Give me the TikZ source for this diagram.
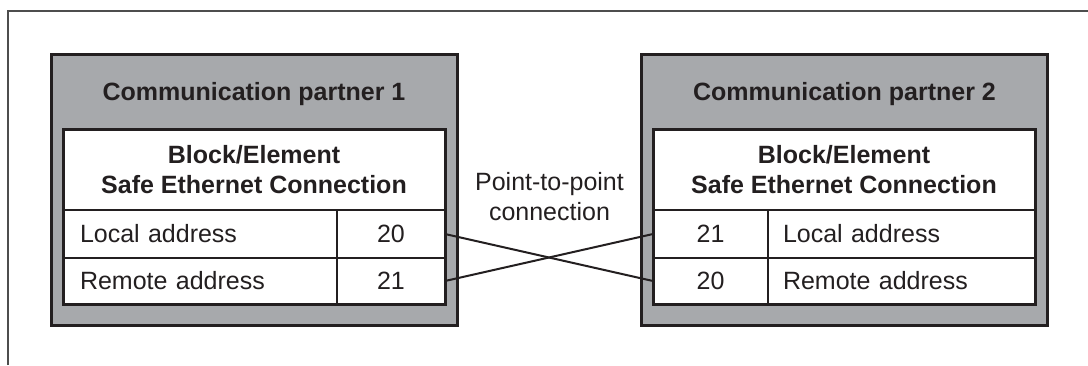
\documentclass[tikz,border=0pt]{standalone}
\usepackage{fontspec}
\setmainfont{Liberation Sans}
\definecolor{ink}{HTML}{231F20}
\definecolor{boxgray}{HTML}{A7A9AC}
\definecolor{framegray}{HTML}{4D4D4D}
\begin{document}
\begin{tikzpicture}[x=1pt,y=-1pt,
  font=\fontsize{25}{30}\selectfont, text=ink,
  partner/.style={draw=ink, line width=3pt, fill=boxgray, minimum width=406pt, minimum height=271pt, inner sep=0pt},
  panel/.style={draw=ink, line width=3pt, minimum width=382pt, minimum height=175pt, inner sep=0pt},
  cell/.style={draw=ink, line width=2pt, fill=white, inner sep=0pt, outer sep=0pt},
  headcell/.style={cell, minimum width=382pt, minimum height=81pt, align=center, font=\bfseries\fontsize{25}{30}\selectfont},
  title/.style={font=\bfseries\fontsize{25}{30}\selectfont, anchor=base},
  conn/.style={draw=ink, line width=2pt},
  frame/.style={draw=framegray, line width=1.5pt}
]
\useasboundingbox (0,0) rectangle (1088,365);
\coordinate (fb) at (8,365);
\coordinate (fc) at (8,11);
\coordinate (fr) at (1090,11);
\draw[frame] (fb) -- (fc) -- (fr);

% Partner 1
\node[partner] (p1) at (254,189.5) {};
\node[title] (t1) at (254,100) {Communication partner 1};
\node[headcell] (h1) at (254,169.5) {Block/Element\\Safe Ethernet Connection};
\node[cell, minimum height=48pt, text width=240pt, inner xsep=17pt, align=left] (la1) at (200,234) {Local address};
\node[cell, minimum height=46pt, text width=240pt, inner xsep=17pt, align=left] (ra1) at (200,281) {Remote address};
\node[cell, minimum width=108pt, minimum height=48pt] (l20) at (391,234) {20};
\node[cell, minimum width=108pt, minimum height=46pt] (l21) at (391,281) {21};
\node[panel] (i1) at (254,216.5) {};

% Partner 2
\node[partner] (p2) at (844.5,189.5) {};
\node[title] (t2) at (844.5,100) {Communication partner 2};
\node[headcell] (h2) at (844,169.5) {Block/Element\\Safe Ethernet Connection};
\node[cell, minimum width=115pt, minimum height=48pt] (r21) at (710.5,234) {21};
\node[cell, minimum width=115pt, minimum height=46pt] (r20) at (710.5,281) {20};
\node[cell, minimum height=48pt, text width=237pt, inner xsep=15pt, align=left] (la2) at (901.5,234) {Local address};
\node[cell, minimum height=46pt, text width=237pt, inner xsep=15pt, align=left] (ra2) at (901.5,281) {Remote address};
\node[panel] (i2) at (844,216.5) {};

% Connection
\node[align=center] (ptp) at (549.5,197) {Point-to-point\\connection};
\draw[conn] (l20.east) -- (r20.west);
\draw[conn] (l21.east) -- (r21.west);
\end{tikzpicture}
\end{document}
